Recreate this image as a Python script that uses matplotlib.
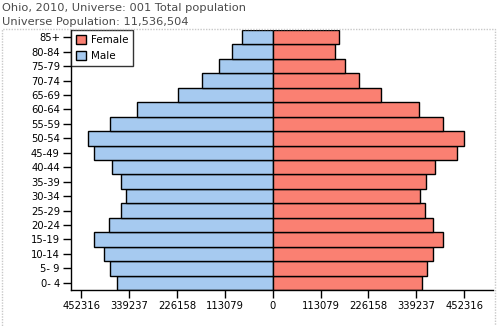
import matplotlib.pyplot as plt
from matplotlib.patches import Rectangle, Patch
import numpy as np

plt.rcParams['font.family'] = ['DejaVu Sans']

# age groups, bottom to top
age_groups = ['0- 4', '5- 9', '10-14', '15-19', '20-24', '25-29', '30-34', '35-39',
              '40-44', '45-49', '50-54', '55-59', '60-64', '65-69', '70-74',
              '75-79', '80-84', '85+']
male = [367000, 383600, 397800, 421400, 386000, 357600, 345800, 357600,
        378900, 421400, 435600, 383600, 319800, 223000, 166300, 126100, 95400, 71800]
female = [353400, 365200, 379300, 403000, 379300, 360400, 348600, 362800,
          384100, 436000, 452600, 403000, 346300, 256500, 204500, 171500, 147900, 157300]
tick_vals = [-452316, -339237, -226158, -113079, 0, 113079, 226158, 339237, 452316]

male_color = '#A6CAF0'
female_color = '#FA8072'

fig = plt.figure(figsize=(4.98, 3.26), dpi=100)
ax = fig.add_axes([71 / 498, 1 - 290 / 326, 422 / 498, 260 / 326])

y = np.arange(len(age_groups))
ax.barh(y, [-m for m in male], height=1.0, color=male_color, edgecolor='black', linewidth=1.0)
ax.barh(y, female, height=1.0, color=female_color, edgecolor='black', linewidth=1.0)

ax.set_xlim(-476400, 520300)
ax.set_ylim(-0.5, len(age_groups) - 0.5)

ax.set_yticks(y)
ax.set_yticklabels(age_groups)
ax.set_xticks(tick_vals)
ax.set_xticklabels([str(abs(v)) for v in tick_vals])
ax.tick_params(axis='both', direction='out', length=6, width=1, labelsize=7.2, colors='black', pad=2)

for s in ['top', 'right']:
    ax.spines[s].set_visible(False)
for s in ['left', 'bottom']:
    ax.spines[s].set_linewidth(1)

handles = [Patch(facecolor=female_color, edgecolor='black', label='Female'),
           Patch(facecolor=male_color, edgecolor='black', label='Male')]
leg = ax.legend(handles=handles, loc='upper left', bbox_to_anchor=(0, 1), fontsize=7.5,
                frameon=True, fancybox=False, borderaxespad=0, handlelength=1.0,
                handleheight=1.0, handletextpad=0.45, borderpad=0.45, labelspacing=0.55)
leg.get_frame().set_edgecolor('black')
leg.get_frame().set_linewidth(1)

fig.text(2 / 498, 1 - 8 / 326, 'Ohio, 2010, Universe: 001 Total population',
         fontsize=8.2, color='#4a4a4a', va='center', ha='left')
fig.text(2 / 498, 1 - 22 / 326, 'Universe Population: 11,536,504',
         fontsize=8.2, color='#4a4a4a', va='center', ha='left')

# dotted frame around the plot region
fig.patches.append(Rectangle((2 / 498, -0.01), 493 / 498, 1 - 29 / 326 + 0.01,
                             transform=fig.transFigure, fill=False,
                             edgecolor='#c8c8c8', linestyle=(0, (1, 1)), linewidth=1))

fig.savefig('out.png', dpi=100)
